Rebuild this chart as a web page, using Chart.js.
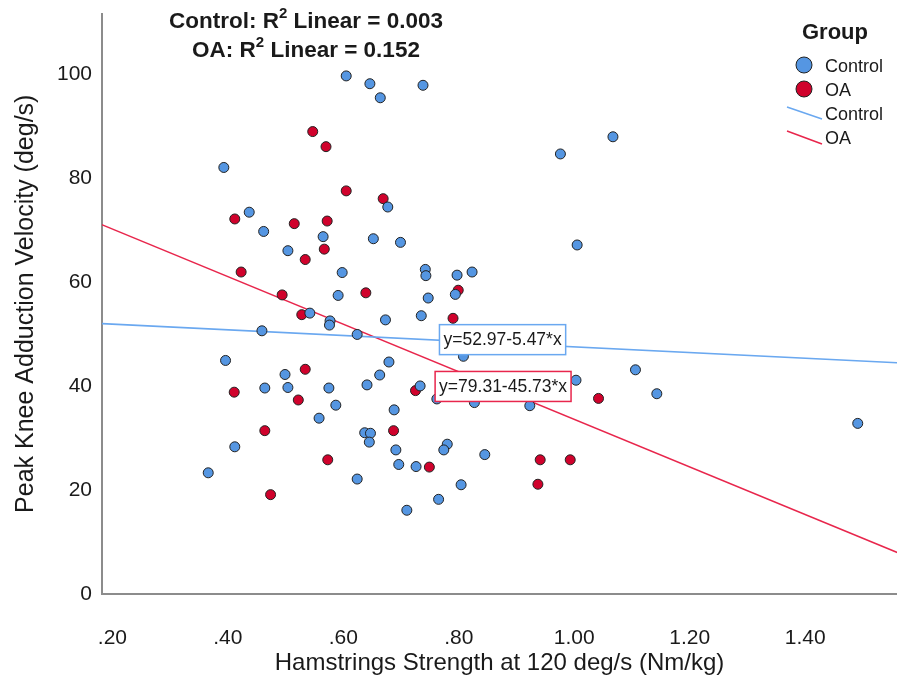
<!DOCTYPE html>
<html><head><meta charset="utf-8">
<script src="https://cdn.jsdelivr.net/npm/chart.js@4/dist/chart.umd.min.js"></script>
<style>html,body{margin:0;padding:0;background:#fff;overflow:hidden}#wrap{width:897px;height:678px;position:relative}</style>
</head><body><div id="wrap"><canvas id="c"></canvas></div>
<script>
// ---- data ----
const controlX = [0.605,0.646,0.664,0.738,1.067,0.976,0.393,0.677,0.437,0.462,0.565,0.652,0.699,1.005,0.504,0.598,0.742,0.743,0.797,0.823,0.591,0.747,0.794,0.542,0.577,0.576,0.673,0.735,0.459,0.624,0.808,0.396,0.679,0.499,0.663,0.641,0.464,0.504,0.575,0.733,1.003,1.106,1.143,1.491,0.587,0.688,0.762,0.827,0.923,0.558,0.637,0.647,0.645,0.691,0.780,0.774,0.845,0.412,0.696,0.726,0.366,0.624,0.804,0.765,0.710];
const controlY = [99.6,98.1,95.4,97.8,87.9,84.6,82.0,74.4,73.4,69.7,68.7,68.3,67.6,67.1,66.0,61.8,62.4,61.2,61.3,61.9,57.4,56.9,57.6,54.0,52.5,51.7,52.7,53.5,50.6,49.9,45.7,44.9,44.6,42.2,42.1,40.2,39.6,39.7,39.6,40.0,41.1,43.1,38.5,32.8,36.3,35.4,37.5,36.8,36.2,33.8,31.0,30.9,29.2,27.7,28.8,27.7,26.8,28.3,24.9,24.5,23.3,22.1,21.0,18.2,16.1];
const oaX = [0.547,0.570,0.605,0.669,0.412,0.515,0.572,0.567,0.534,0.423,0.494,0.639,0.799,0.528,0.790,0.534,0.411,0.522,0.725,1.042,0.464,0.687,0.573,0.749,0.941,0.993,0.937,0.474];
const oaY = [88.9,86.0,77.5,76.0,72.1,71.2,71.7,66.3,64.3,61.9,57.5,57.9,58.4,53.7,53.0,43.2,38.8,37.3,39.1,37.6,31.4,31.4,25.8,24.4,25.8,25.8,21.1,19.1];
const controlFitX = [0.18, 1.56];
const controlFitY = [51.99, 44.44];
const oaFitX = [0.18, 1.56];
const oaFitY = [71.08, 7.97];
const groups = ['Control', 'OA'];
const rSquared = ['0.003', '0.152'];
const fitEquations = ['y=52.97-5.47*x', 'y=79.31-45.73*x'];
const xTicks = [0.2, 0.4, 0.6, 0.8, 1.0, 1.2, 1.4];
const yTicks = [0, 20, 40, 60, 80, 100];

// ---- styling ----
const FONT = "'Liberation Sans', Arial, sans-serif";
const BLUE = '#5596e2', RED = '#d0022c';
const BLUE_LINE = '#6aa8f0', RED_LINE = '#e8264c';
const TEXT = '#1a1a1a';

const toPts = (xs, ys) => xs.map((v, i) => ({x: v, y: ys[i]}));
const fmtX = v => { const s = v.toFixed(2); return v < 1 ? s.slice(1) : s; };

const overlay = {
  id: 'overlay',
  afterDatasetsDraw(chart) {
    const {ctx, scales: {x, y}} = chart;
    ctx.save();
    // equation boxes
    const boxes = [
      {text: fitEquations[0], at: [0.8758, 48.9], color: BLUE_LINE},
      {text: fitEquations[1], at: [0.8767, 39.9], color: RED_LINE}
    ];
    ctx.font = '17.5px ' + FONT;
    ctx.textBaseline = 'middle';
    ctx.textAlign = 'center';
    boxes.forEach(b => {
      const cx = x.getPixelForValue(b.at[0]);
      const cy = y.getPixelForValue(b.at[1]);
      const w = ctx.measureText(b.text).width + 8;
      const h = 30;
      ctx.fillStyle = '#fff';
      ctx.fillRect(cx - w / 2, cy - h / 2, w, h);
      ctx.strokeStyle = b.color;
      ctx.lineWidth = 1.5;
      ctx.strokeRect(cx - w / 2, cy - h / 2, w, h);
      ctx.fillStyle = TEXT;
      ctx.fillText(b.text, cx, cy + 1);
    });
    // R² annotation lines
    const lines = [[groups[0] + ': R', ' Linear = ' + rSquared[0], 22], [groups[1] + ': R', ' Linear = ' + rSquared[1], 51]];
    const big = 'bold 22.5px ' + FONT, small = 'bold 15px ' + FONT;
    lines.forEach(([a, b, py]) => {
      ctx.font = big;
      const wa = ctx.measureText(a).width, wb = ctx.measureText(b).width;
      ctx.font = small;
      const w2 = ctx.measureText('2').width;
      const total = wa + w2 + wb;
      let sx = 306 - total / 2;
      ctx.textAlign = 'left';
      ctx.fillStyle = TEXT;
      ctx.font = big;
      ctx.fillText(a, sx, py);
      ctx.font = small;
      ctx.fillText('2', sx + wa, py - 8);
      ctx.font = big;
      ctx.fillText(b, sx + wa + w2, py);
    });
    // legend
    ctx.textAlign = 'center';
    ctx.font = 'bold 22px ' + FONT;
    ctx.fillText('Group', 835, 33);
    ctx.textAlign = 'left';
    ctx.font = '18px ' + FONT;
    [[BLUE, 65, groups[0]], [RED, 89, groups[1]]].forEach(([c, py, t]) => {
      ctx.beginPath();
      ctx.arc(804, py, 8, 0, Math.PI * 2);
      ctx.fillStyle = c; ctx.fill();
      ctx.lineWidth = 1; ctx.strokeStyle = '#222'; ctx.stroke();
      ctx.fillStyle = TEXT;
      ctx.fillText(t, 825, py + 2);
    });
    [[BLUE_LINE, 107, 119, groups[0]], [RED_LINE, 131, 144, groups[1]]].forEach(([c, y1, y2, t]) => {
      ctx.beginPath();
      ctx.moveTo(787, y1); ctx.lineTo(822, y2);
      ctx.strokeStyle = c; ctx.lineWidth = 1.5; ctx.stroke();
      ctx.fillStyle = TEXT;
      ctx.fillText(t, 825, (y1 + y2) / 2 + 2);
    });
    ctx.restore();
  }
};

new Chart(document.getElementById('c'), {
  data: {
    datasets: [
      {type: 'scatter', label: groups[0], data: toPts(controlX, controlY), backgroundColor: BLUE, borderColor: '#222', borderWidth: 1, pointRadius: 5, order: 0},
      {type: 'scatter', label: groups[1], data: toPts(oaX, oaY), backgroundColor: RED, borderColor: '#222', borderWidth: 1, pointRadius: 5, order: 0},
      {type: 'line', label: groups[0] + ' fit', data: toPts(controlFitX, controlFitY), borderColor: BLUE_LINE, borderWidth: 1.6, pointRadius: 0, fill: false, order: 1},
      {type: 'line', label: groups[1] + ' fit', data: toPts(oaFitX, oaFitY), borderColor: RED_LINE, borderWidth: 1.6, pointRadius: 0, fill: false, order: 1}
    ]
  },
  options: {
    responsive: true,
    maintainAspectRatio: false,
    animation: false,
    events: [],
    layout: {autoPadding: false, padding: {top: 13.5, right: 0, left: 0, bottom: 0}},
    plugins: {legend: {display: false}, tooltip: {enabled: false}},
    scales: {
      x: {
        type: 'linear', position: 'bottom', min: 0.182, max: 1.559,
        afterBuildTicks: s => { s.ticks = xTicks.map(v => ({value: v})); },
        afterFit: s => { s.height = 84; s.paddingRight = 0; s.paddingLeft = 0; },
        grid: {display: false, drawTicks: false},
        border: {display: true, color: '#8c8c8c', width: 2},
        ticks: {autoSkip: false, maxRotation: 0, padding: 32, color: TEXT, font: {family: FONT, size: 21}, callback: v => fmtX(v)},
        title: {display: true, text: 'Hamstrings Strength at 120 deg/s (Nm/kg)', color: TEXT, font: {family: FONT, size: 24}, padding: {top: 0, bottom: 0}}
      },
      y: {
        type: 'linear', position: 'left', min: 0, max: 111.6,
        afterBuildTicks: s => { s.ticks = yTicks.map(v => ({value: v})); },
        afterFit: s => { s.width = 102; s.paddingTop = 0; s.paddingBottom = 0; },
        grid: {display: false, drawTicks: false},
        border: {display: true, color: '#8c8c8c', width: 2},
        ticks: {padding: 10, color: TEXT, font: {family: FONT, size: 21}},
        title: {display: true, text: 'Peak Knee Adduction Velocity (deg/s)', color: TEXT, font: {family: FONT, size: 25}, padding: {top: 11, bottom: 0}}
      }
    }
  },
  plugins: [overlay]
});
</script>
</body></html>
